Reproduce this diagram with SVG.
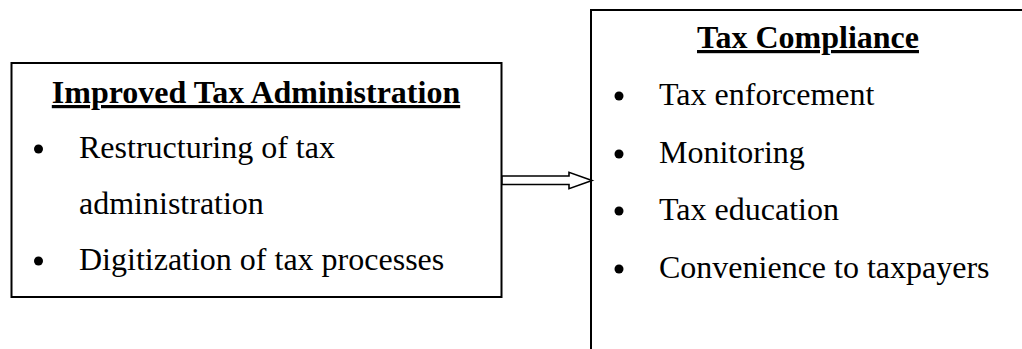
<svg xmlns="http://www.w3.org/2000/svg" width="1022" height="349" viewBox="0 0 1022 349">
  <style>
    .box { fill: #ffffff; stroke: #000000; stroke-width: 2; }
    .title { font-family: "Liberation Serif", "Times New Roman", serif; font-size: 32px; font-weight: bold; text-decoration: underline; fill: #000000; }
    .item { font-family: "Liberation Serif", "Times New Roman", serif; font-size: 32px; fill: #000000; }
    .dot { fill: #000000; }
    .link { fill: #ffffff; stroke: #000000; stroke-width: 1.6; stroke-linejoin: miter; }
  </style>
  <rect width="1022" height="349" fill="#ffffff"/>

  <!-- Left node: administration measures -->
  <g id="improved-tax-administration">
    <rect class="box" x="11.5" y="63" width="490" height="234"/>
    <text class="title" x="256" y="103" text-anchor="middle">Improved Tax Administration</text>
    <circle class="dot" cx="38.5" cy="149" r="4.5"/>
    <text class="item" x="79" y="158">Restructuring of tax</text>
    <text class="item" x="79" y="214">administration</text>
    <circle class="dot" cx="38.5" cy="261" r="4.5"/>
    <text class="item" x="79" y="270">Digitization of tax processes</text>
  </g>

  <!-- Right node: compliance outcomes (box runs past the right and bottom edges) -->
  <g id="tax-compliance">
    <rect class="box" x="591" y="10" width="440" height="360"/>
    <text class="title" x="808" y="48" text-anchor="middle">Tax Compliance</text>
    <circle class="dot" cx="619" cy="96" r="4.5"/>
    <text class="item" x="659" y="105">Tax enforcement</text>
    <circle class="dot" cx="619" cy="154" r="4.5"/>
    <text class="item" x="659" y="163">Monitoring</text>
    <circle class="dot" cx="619" cy="211" r="4.5"/>
    <text class="item" x="659" y="220">Tax education</text>
    <circle class="dot" cx="619" cy="269" r="4.5"/>
    <text class="item" x="659" y="278">Convenience to taxpayers</text>
  </g>

  <!-- Connector: hollow block arrow -->
  <g id="connectors">
    <polygon class="link" points="502,176 569,176 569,172.3 592,180.5 569,188.7 569,184.5 502,184.5"/>
  </g>
</svg>
